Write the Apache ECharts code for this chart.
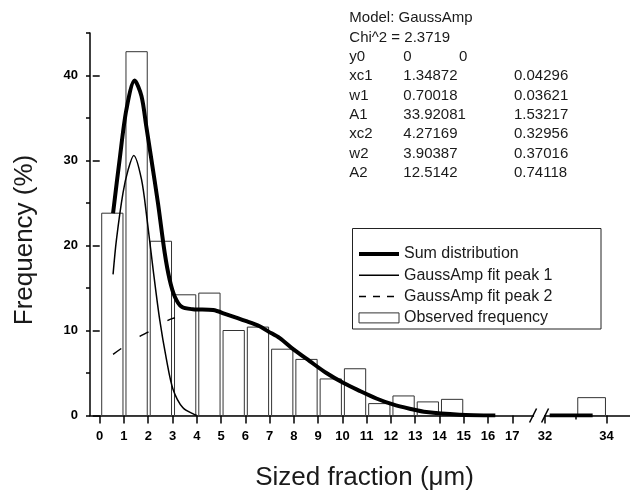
<!DOCTYPE html>
<html><head><meta charset="utf-8">
<script src="https://cdn.jsdelivr.net/npm/echarts@6/dist/echarts.min.js"></script>
<style>html,body{margin:0;padding:0;background:#fff}#c{width:630px;height:490px}</style>
</head><body><div id="c"></div>
<script>
// ---------- data ----------
const binStart = [0,1,2,3,4,5,6,7,8,9,10,11,12,13,14,33];
const binEnd   = [1,2,3,4,5,6,7,8,9,10,11,12,13,14,15,34];
const observedFreq = [23.8,42.8,20.5,14.2,14.4,10.0,10.4,7.8,6.6,4.3,5.5,1.4,2.3,1.6,1.9,2.1];

const sumX = [0.55,0.82,1.10,1.44,1.72,1.92,2.13,2.40,2.68,2.88,3.09,3.37,3.84,4.67,5.22,6.04,6.59,6.94,7.42,7.97,8.65,9.34,10.03,10.71,11.40,12.08,12.77,13.46,14.83,16.3,null,32.15,33.55];
const sumY = [23.8,30.1,36.0,39.4,37.6,34.0,30.1,25.0,19.1,16.0,14.0,12.8,12.5,12.4,11.9,11.1,10.5,9.9,9.1,7.8,6.4,5.0,3.85,2.9,2.0,1.3,0.8,0.4,0.1,0,null,0,0];

const peak1X = [0.55,0.69,0.96,1.17,1.40,1.72,1.95,2.20,2.47,2.75,3.02,3.43,3.91,4.0];
const peak1Y = [16.6,20.7,26.2,28.9,30.6,27.8,23.1,17.2,11.3,6.6,3.1,0.9,0.1,0];

const peak2X = [0.55,1.0,1.65,1.99,2.81,3.1];
const peak2Y = [7.2,8.1,9.3,9.8,11.2,11.5];

const xTickValues = [0,1,2,3,4,5,6,7,8,9,10,11,12,13,14,15,16,17,32,34];
const xTickLabels = ['0','1','2','3','4','5','6','7','8','9','10','11','12','13','14','15','16','17','32','34'];
const xMinorTickValues = [33];
const yMajorTicks = [0,10,20,30,40];

const fitHeader = ['Model: GaussAmp', 'Chi^2 = 2.3719'];
const paramNames  = ['y0','xc1','w1','A1','xc2','w2','A2'];
const paramValues = ['0','1.34872','0.70018','33.92081','4.27169','3.90387','12.5142'];
const paramErrors = ['0','0.04296','0.03621','1.53217','0.32956','0.37016','0.74118'];

const seriesNames = ['Sum distribution','GaussAmp fit peak 1','GaussAmp fit peak 2','Observed frequency'];

// broken x axis: 0..17 linear, then 32..34 with its own scale
function dx(x){ return x <= 17 ? x : 18.35 + (x - 32) * 1.265; }
function labelFor(v){
  for (let i = 0; i < xTickValues.length; i++) {
    if (Math.abs(dx(xTickValues[i]) - v) < 1e-6) return xTickLabels[i];
  }
  return '';
}
function pts(xs, ys){ return xs.map((x,i)=> x === null ? ['-','-'] : [dx(x), ys[i]]); }

const FONT = '"Liberation Sans", Arial, Helvetica, sans-serif';
const TXT = '#1a1a1a';

const chart = echarts.init(document.getElementById('c'), null, {renderer:'canvas'});

const graphics = [];
fitHeader.forEach((t,i)=>{
  graphics.push({type:'text', x:349.3, y:18 + i*19.37, style:{text:t, font:'15px '+FONT, fill:TXT, verticalAlign:'middle', align:'left'}, z:10});
});
paramNames.forEach((n,i)=>{
  const y = 18 + (i+2)*19.37;
  graphics.push({type:'text', x:349.3, y:y, style:{text:n, font:'15px '+FONT, fill:TXT, verticalAlign:'middle'}, z:10});
  graphics.push({type:'text', x:403.3, y:y, style:{text:paramValues[i], font:'15px '+FONT, fill:TXT, verticalAlign:'middle'}, z:10});
  graphics.push({type:'text', x:(i===0?459:514), y:y, style:{text:paramErrors[i], font:'15px '+FONT, fill:TXT, verticalAlign:'middle'}, z:10});
});
// legend frame
graphics.push({type:'rect', shape:{x:352.5, y:228.5, width:248.5, height:100.5}, style:{fill:'#fff', stroke:'#222', lineWidth:1}, z:1});
// axis names
graphics.push({type:'text', x:364.5, y:478, style:{text:'Sized fraction (\u03bcm)', font:'26px '+FONT, fill:TXT, align:'center', verticalAlign:'middle'}, z:10});
graphics.push({type:'text', x:24.5, y:240, rotation:Math.PI/2, style:{text:'Frequency (%)', font:'26px '+FONT, fill:TXT, align:'center', verticalAlign:'middle'}, z:10});

const axisLineStyle = {color:'#000', width:1.5};
const noSymbol = {opacity:0, color:'rgba(0,0,0,0)', borderWidth:0};

const option = {
  animation:false,
  backgroundColor:'#fff',
  grid:{left:90, right:0, top:33, bottom:74.5, containLabel:false},
  xAxis:[{
    type:'value', min:-0.4, max:21.85, position:'bottom',
    axisLine:{show:true, onZero:false, lineStyle:axisLineStyle},
    axisTick:{show:true, length:8, customValues:xTickValues.map(dx), lineStyle:axisLineStyle},
    axisLabel:{show:true, customValues:xTickValues.map(dx), formatter:labelFor, margin:14, fontSize:13, fontWeight:'bold', color:'#000', fontFamily:FONT},
    splitLine:{show:false}
  },{
    type:'value', min:-0.4, max:21.85, position:'bottom', offset:0,
    axisLine:{show:false},
    axisTick:{show:true, length:4, customValues:xMinorTickValues.map(dx), lineStyle:axisLineStyle},
    axisLabel:{show:false}, splitLine:{show:false}
  }],
  yAxis:[{
    type:'value', min:0, max:45, interval:5, position:'left',
    axisLine:{show:true, onZero:false, lineStyle:axisLineStyle},
    axisTick:{show:true, length:4, lineStyle:axisLineStyle},
    axisLabel:{show:true, customValues:yMajorTicks, margin:12, fontSize:13, fontWeight:'bold', color:'#000', fontFamily:FONT},
    splitLine:{show:false}
  },{
    type:'value', min:0, max:45, interval:5, position:'left', offset:0,
    axisLine:{show:false},
    axisTick:{show:true, length:7, customValues:yMajorTicks, lineStyle:axisLineStyle},
    axisLabel:{show:false}, splitLine:{show:false}
  }],
  legend:{
    orient:'vertical', left:357, top:246, itemWidth:40, itemHeight:14, itemGap:5.3, padding:0,
    selectedMode:false, z:20,
    textStyle:{fontSize:16, color:TXT, fontFamily:FONT},
    data:[
      {name:seriesNames[0], itemStyle:noSymbol, lineStyle:{width:4}},
      {name:seriesNames[1], itemStyle:noSymbol, lineStyle:{width:1.5}},
      {name:seriesNames[2], itemStyle:noSymbol, lineStyle:{width:1.5, type:[7,7]}},
      {name:seriesNames[3], icon:'path://M0,0H40V10H0Z', itemStyle:{color:'#fff', borderColor:'#333', borderWidth:1}}
    ]
  },
  graphic:graphics,
  series:[{
    name:seriesNames[3], type:'custom', xAxisIndex:0, yAxisIndex:0,
    encode:{x:[0,1], y:2},
    data:binStart.map((s,i)=>[dx(s), dx(binEnd[i]), observedFreq[i]]),
    itemStyle:{color:'#fff', borderColor:'#333', borderWidth:1},
    renderItem:function(params, api){
      const p0 = api.coord([api.value(0), api.value(2)]);
      const p1 = api.coord([api.value(1), 0]);
      return {type:'rect', shape:{x:p0[0]+2, y:p0[1], width:p1[0]-p0[0]-3, height:p1[1]-p0[1]},
              style:{fill:'#fff', stroke:'#333', lineWidth:1}};
    }
  },{
    name:seriesNames[1], type:'line', xAxisIndex:0, yAxisIndex:0,
    data:pts(peak1X, peak1Y), smooth:0.3, symbol:'none',
    lineStyle:{color:'#000', width:1.5}, itemStyle:{color:'#000'}
  },{
    name:seriesNames[2], type:'line', xAxisIndex:0, yAxisIndex:0,
    data:pts(peak2X, peak2Y), smooth:0.3, symbol:'none',
    lineStyle:{color:'#000', width:1.5, type:[10,22]}, itemStyle:{color:'#000'}
  },{
    name:seriesNames[0], type:'line', xAxisIndex:0, yAxisIndex:0,
    data:pts(sumX, sumY), smooth:0.3, symbol:'none', connectNulls:false,
    lineStyle:{color:'#000', width:4}, itemStyle:{color:'#000'}
  }]
};
chart.setOption(option);

// axis break marks
const x32 = chart.convertToPixel({xAxisIndex:0}, dx(32));
const yAx = chart.convertToPixel({yAxisIndex:0}, 0);
chart.setOption({graphic: graphics.concat([
  {type:'rect', shape:{x:x32-11, y:yAx-2, width:10, height:4}, style:{fill:'#fff'}, z:30},
  {type:'line', shape:{x1:x32-15.5, y1:yAx+7, x2:x32-8.5, y2:yAx-7}, style:{stroke:'#000', lineWidth:1.5}, z:31},
  {type:'line', shape:{x1:x32-3.5, y1:yAx+7, x2:x32+3.5, y2:yAx-7}, style:{stroke:'#000', lineWidth:1.5}, z:31}
])});
</script></body></html>
